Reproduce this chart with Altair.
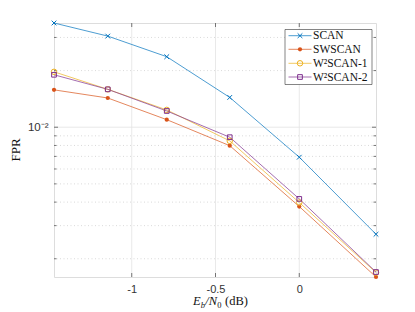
import altair as alt
import pandas as pd

# ---- data ----
x_vals = [-1.464, -1.143, -0.791, -0.415, 0.0, 0.458]
series_names = ["SCAN", "SWSCAN", "W²SCAN-1", "W²SCAN-2"]
scan = [3.58e-2, 3.05e-2, 2.37e-2, 1.44e-2, 6.93e-3, 2.70e-3]
swscan = [1.58e-2, 1.43e-2, 1.097e-2, 7.98e-3, 3.79e-3, 1.60e-3]
w2scan1 = [1.97e-2, 1.59e-2, 1.236e-2, 8.46e-3, 3.98e-3, 1.69e-3]
w2scan2 = [1.90e-2, 1.59e-2, 1.22e-2, 8.85e-3, 4.16e-3, 1.70e-3]
x_ticks = [-1, -0.5, 0]
x_tick_labels = ["-1", "-0.5", "0"]
y_major = [0.01]
y_minor = [0.002, 0.003, 0.004, 0.005, 0.006, 0.007, 0.008, 0.009, 0.02, 0.03]

colors = ["#0072BD", "#D95319", "#EDB120", "#7E2F8E"]
shapes = ["M-1,-1L1,1M-1,1L1,-1", "circle", "circle", "square"]
fills = [False, True, False, False]
sizes = [22, 18, 30, 22]

W, H = 322, 254
SERIF = "Liberation Serif"
SANS = "Liberation Sans"

rows = []
for name, vals in zip(series_names, [scan, swscan, w2scan1, w2scan2]):
    for xv, yv in zip(x_vals, vals):
        rows.append({"series": name, "x": xv, "y": yv})
df = pd.DataFrame(rows)

xs = alt.Scale(domain=[-1.464, 0.458], nice=False, zero=False)
ys = alt.Scale(type="log", domain=[1.6e-3, 3.58e-2], nice=False)

lab_expr = " : ".join(
    f"datum.value == {v} ? '{t}'" for v, t in zip(x_ticks, x_tick_labels)) + " : ''"
xaxis = alt.Axis(values=x_ticks, labelExpr=lab_expr,
                 grid=False, ticks=False, domain=False, title=None,
                 labelFont=SANS, labelFontSize=11, labelColor="#333", labelPadding=6)
yaxis = alt.Axis(values=y_major, labelExpr="'10⁻²'", grid=False, ticks=False, domain=False,
                 title=None, labelFont=SANS, labelFontSize=11.5, labelColor="#333", labelPadding=6)

X = lambda f: alt.X(f, scale=xs, axis=xaxis)
Y = lambda f: alt.Y(f, scale=ys, axis=yaxis)

xt = pd.DataFrame({"v": x_ticks})
ymaj = pd.DataFrame({"v": y_major})
ymin = pd.DataFrame({"v": y_minor})
one = pd.DataFrame({"a": [0]})

layers = []
# grid
layers.append(alt.Chart(xt).mark_rule(color="#e3e3e3", strokeWidth=0.8).encode(x=X("v:Q")))
layers.append(alt.Chart(ymaj).mark_rule(color="#e3e3e3", strokeWidth=0.8).encode(y=Y("v:Q")))
layers.append(alt.Chart(ymin).mark_rule(color="#d0d0d0", strokeWidth=0.8, strokeDash=[1, 2.5]).encode(y=Y("v:Q")))
# ticks (inward)
layers.append(alt.Chart(xt).mark_rule(color="#555", strokeWidth=0.8).encode(x=X("v:Q"), y=alt.value(H), y2=alt.value(H - 4)))
layers.append(alt.Chart(xt).mark_rule(color="#555", strokeWidth=0.8).encode(x=X("v:Q"), y=alt.value(0), y2=alt.value(4)))
layers.append(alt.Chart(ymaj).mark_rule(color="#555", strokeWidth=0.8).encode(y=Y("v:Q"), x=alt.value(0), x2=alt.value(4)))
layers.append(alt.Chart(ymaj).mark_rule(color="#555", strokeWidth=0.8).encode(y=Y("v:Q"), x=alt.value(W), x2=alt.value(W - 4)))
layers.append(alt.Chart(ymin).mark_rule(color="#555", strokeWidth=0.8).encode(y=Y("v:Q"), x=alt.value(0), x2=alt.value(2.5)))
layers.append(alt.Chart(ymin).mark_rule(color="#555", strokeWidth=0.8).encode(y=Y("v:Q"), x=alt.value(W), x2=alt.value(W - 2.5)))

# lines
layers.append(alt.Chart(df).mark_line(strokeWidth=0.7).encode(
    x=X("x:Q"), y=Y("y:Q"),
    color=alt.Color("series:N", scale=alt.Scale(domain=series_names, range=colors), legend=None)))
# markers
for name, shp, fl, col, sz in zip(series_names, shapes, fills, colors, sizes):
    layers.append(alt.Chart(df).transform_filter(alt.datum.series == name).mark_point(
        shape=shp, filled=fl, size=sz, color=col, strokeWidth=1, opacity=1).encode(
        x=X("x:Q"), y=Y("y:Q")))

# legend
layers.append(alt.Chart(one).mark_rect(fill="white", stroke="#333", strokeWidth=0.6).encode(
    x=alt.value(231), x2=alt.value(318), y=alt.value(6.5), y2=alt.value(61.5)))
ly = [12.7, 26.3, 40.3, 54.0]
for i, (name, shp, fl, col, sz) in enumerate(zip(series_names, shapes, fills, colors, sizes)):
    layers.append(alt.Chart(one).mark_rule(color=col, strokeWidth=0.7).encode(
        x=alt.value(234.5), x2=alt.value(257.5), y=alt.value(ly[i])))
    layers.append(alt.Chart(one).mark_point(shape=shp, filled=fl, size=sz, color=col, strokeWidth=1, opacity=1).encode(
        x=alt.value(246), y=alt.value(ly[i])))
    layers.append(alt.Chart(one).mark_text(text=name, font=SERIF, fontSize=11.5, align="left", baseline="middle",
                                           color="#111").encode(x=alt.value(259), y=alt.value(ly[i] + 0.5)))

# axis titles
layers.append(alt.Chart(one).mark_text(text="FPR", font=SERIF, fontSize=13, angle=270, align="center",
                                       baseline="middle", color="#111").encode(x=alt.value(-38), y=alt.value(H / 2)))
tx0 = 139
parts = [("E", "italic", 12.5, 0), ("b", "italic", 8.5, 2.5), ("/N", "italic", 12.5, 0), ("0", "normal", 8.5, 2.5),
         ("(dB)", "normal", 12.5, 0)]
widths = [7.8, 4.4, 12.0, 7.8, 0]
cx = tx0
for (t, st, fs, dy), w in zip(parts, widths):
    layers.append(alt.Chart(one).mark_text(text=t, font=SERIF, fontSize=fs, fontStyle=st, align="left",
                                           baseline="alphabetic", color="#111").encode(
        x=alt.value(cx), y=alt.value(H + 28 + dy)))
    cx += w

chart = alt.layer(*layers).properties(
    width=W, height=H,
    autosize=alt.AutoSizeParams(type="none"),
    padding={"left": 46, "top": 15, "right": 31, "bottom": 35},
).configure_view(stroke="#555", strokeWidth=0.9).configure(background="white")

chart.save("out.html", embed_options={"renderer": "svg", "actions": False})
